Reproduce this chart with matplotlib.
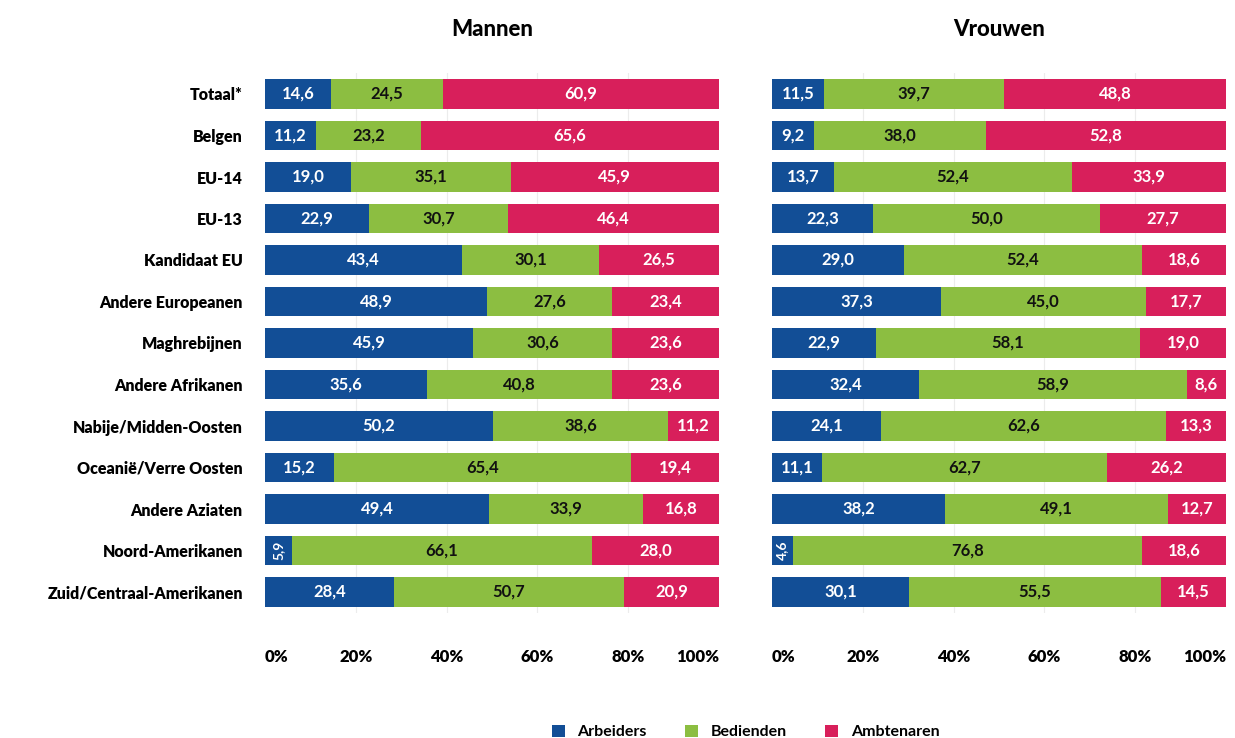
import matplotlib
matplotlib.use("Agg")
import matplotlib.pyplot as plt
from matplotlib.patches import Patch
import numpy as np

plt.rcParams['font.family'] = ['Lato', 'DejaVu Sans']

categories = [
    "Totaal*", "Belgen", "EU-14", "EU-13", "Kandidaat EU", "Andere Europeanen",
    "Maghrebijnen", "Andere Afrikanen", "Nabije/Midden-Oosten",
    "Oceanië/Verre Oosten", "Andere Aziaten", "Noord-Amerikanen",
    "Zuid/Centraal-Amerikanen",
]
series_names = ["Arbeiders", "Bedienden", "Ambtenaren"]

mannen_arbeiders = [14.6, 11.2, 19.0, 22.9, 43.4, 48.9, 45.9, 35.6, 50.2, 15.2, 49.4, 5.9, 28.4]
mannen_bedienden = [24.5, 23.2, 35.1, 30.7, 30.1, 27.6, 30.6, 40.8, 38.6, 65.4, 33.9, 66.1, 50.7]
mannen_ambtenaren = [60.9, 65.6, 45.9, 46.4, 26.5, 23.4, 23.6, 23.6, 11.2, 19.4, 16.8, 28.0, 20.9]

vrouwen_arbeiders = [11.5, 9.2, 13.7, 22.3, 29.0, 37.3, 22.9, 32.4, 24.1, 11.1, 38.2, 4.6, 30.1]
vrouwen_bedienden = [39.7, 38.0, 52.4, 50.0, 52.4, 45.0, 58.1, 58.9, 62.6, 62.7, 49.1, 76.8, 55.5]
vrouwen_ambtenaren = [48.8, 52.8, 33.9, 27.7, 18.6, 17.7, 19.0, 8.6, 13.3, 26.2, 12.7, 18.6, 14.5]

tick_values = [0, 20, 40, 60, 80, 100]
tick_labels = ["0%", "20%", "40%", "60%", "80%", "100%"]

colors = ["#124e96", "#8cbe41", "#d81f5b"]
text_colors = ["white", "#111111", "white"]

W, H = 1235, 738
fig = plt.figure(figsize=(W / 100, H / 100), dpi=100)

row_h = 41.5
ax_top = 94 - row_h / 2
ax_h = row_h * len(categories)
ax_bottom = H - (ax_top + ax_h)
panel_w = 454


def make_axes(x0):
    return fig.add_axes([x0 / W, ax_bottom / H, panel_w / W, ax_h / H])


def draw_panel(ax, title, arrays, show_labels):
    y = np.arange(len(categories))
    for xv in tick_values[1:-1]:
        ax.axvline(xv, color="#ececec", lw=0.8, zorder=0)
    left = np.zeros(len(categories))
    for k, vals in enumerate(arrays):
        vals = np.array(vals)
        ax.barh(y, vals, left=left, height=0.72, color=colors[k],
                edgecolor="none", zorder=2)
        for i, v in enumerate(vals):
            cx = left[i] + v / 2
            txt = f"{v:.1f}".replace(".", ",")
            if v < 7:
                ax.text(cx, y[i], txt, rotation=90, ha="center", va="center",
                        color=text_colors[k], fontsize=10, fontweight="bold",
                        zorder=3)
            else:
                ax.text(cx, y[i], txt, ha="center", va="center",
                        color=text_colors[k], fontsize=12, fontweight="bold",
                        zorder=3)
        left = left + vals
    ax.set_xlim(0, 100)
    ax.set_ylim(len(categories) - 0.5, -0.5)
    ax.set_xticks(tick_values)
    ax.set_xticklabels(tick_labels, fontsize=12, fontweight="heavy")
    labels = ax.get_xticklabels()
    labels[0].set_horizontalalignment("left")
    labels[-1].set_horizontalalignment("right")
    ax.tick_params(axis="x", length=0, pad=26)
    ax.set_yticks(y)
    if show_labels:
        ax.set_yticklabels(categories, fontsize=11.5, fontweight="heavy")
        ax.tick_params(axis="y", length=0, pad=16)
    else:
        ax.set_yticklabels([])
        ax.tick_params(axis="y", length=0)
    for s in ax.spines.values():
        s.set_visible(False)
    ax.set_title(title, fontsize=16, fontweight="black", pad=27)


ax1 = make_axes(265)
ax2 = make_axes(772)
draw_panel(ax1, "Mannen", [mannen_arbeiders, mannen_bedienden, mannen_ambtenaren], True)
draw_panel(ax2, "Vrouwen", [vrouwen_arbeiders, vrouwen_bedienden, vrouwen_ambtenaren], False)

handles = [Patch(facecolor=c, edgecolor="none") for c in colors]
fig.legend(handles, series_names, loc="center", ncol=3, frameon=False,
           bbox_to_anchor=(745.5 / W, (H - 732) / H),
           handlelength=0.8, handleheight=0.8, handletextpad=0.8,
           columnspacing=2.4, prop={"weight": "bold", "size": 11.5})

fig.savefig("out.png", dpi=100)
